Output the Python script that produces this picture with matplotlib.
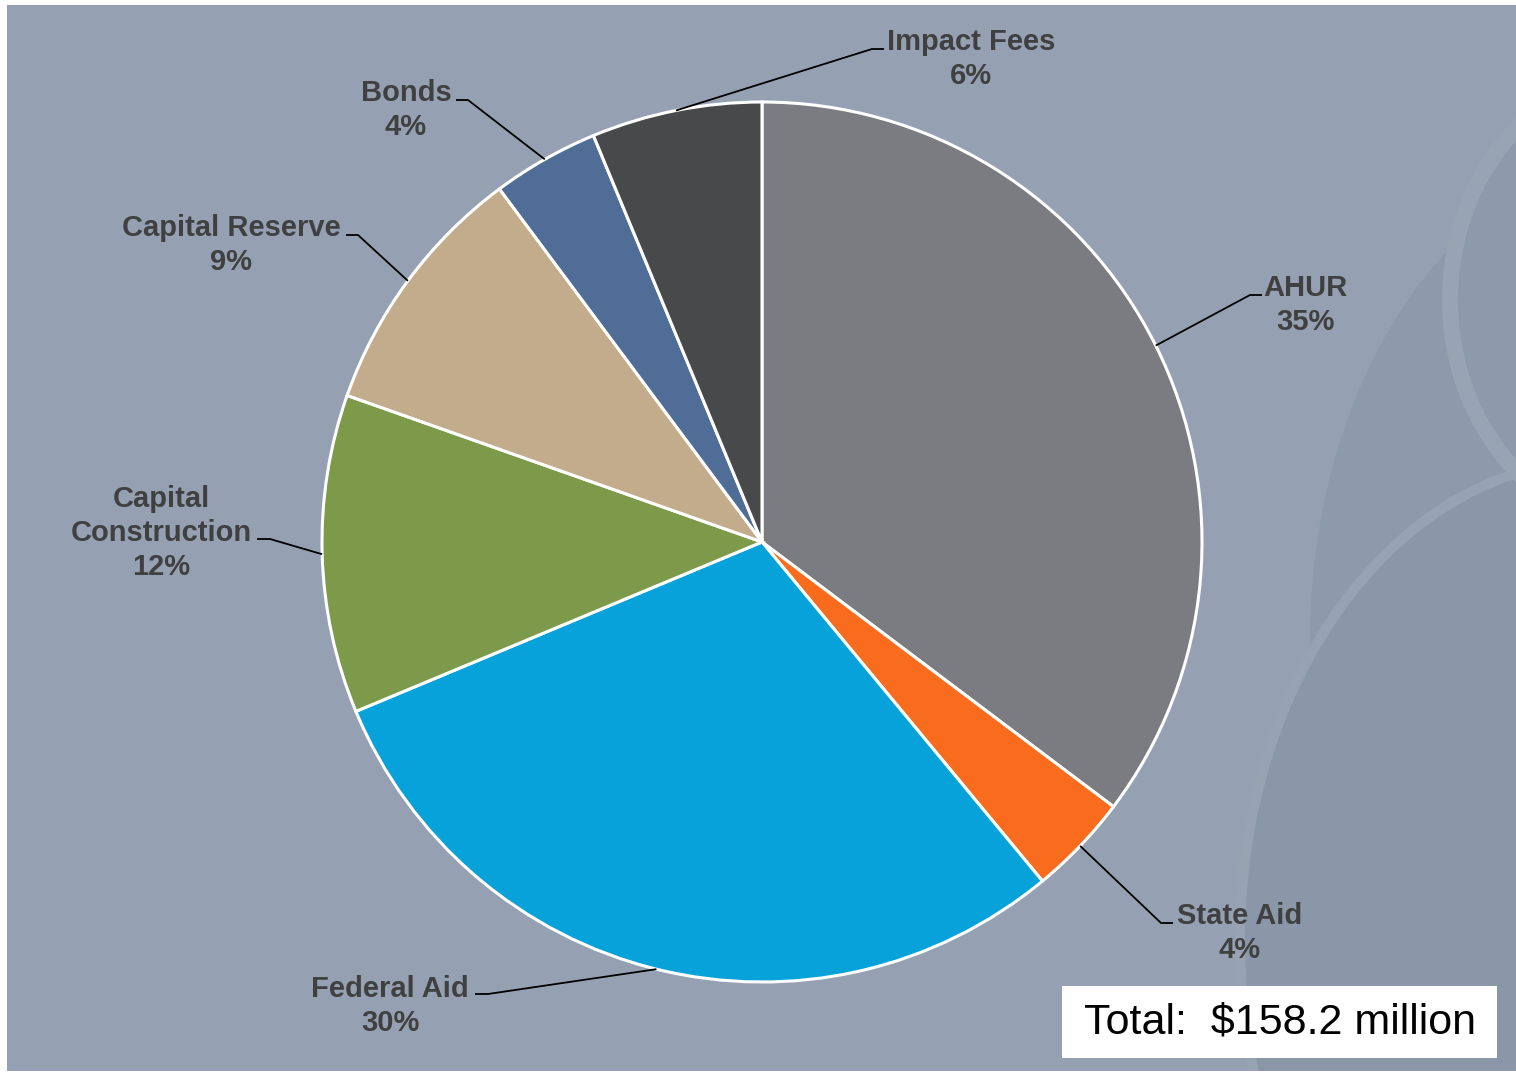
import matplotlib.pyplot as plt
from matplotlib.patches import Rectangle, Ellipse
import numpy as np

# funding sources, $ million
sources = ['AHUR', 'State Aid', 'Federal Aid', 'Capital\nConstruction',
           'Capital Reserve', 'Bonds', 'Impact Fees']
amounts = [55.8, 5.9, 47.0, 18.5, 14.9, 6.2, 9.9]
colors = ['#7B7C81', '#F96B1D', '#08A2DA', '#7D994A', '#C3AC8B', '#4F6D96', '#48494B']
total_text = 'Total:  $158.2 million'

W, H = 1516, 1073
CX, CY, R = 762, 542, 440  # pie centre / radius in pixels


def px(x, y):
    # pixel (from top-left) -> data coords
    return (x - CX) / R, (CY - y) / R


fig = plt.figure(figsize=(W / 100, H / 100), dpi=100)
fig.patch.set_facecolor('white')
ax = fig.add_axes([0, 0, 1, 1])
ax.set_xlim(-CX / R, (W - CX) / R)
ax.set_ylim(-(H - CY) / R, CY / R)
ax.axis('off')

# background panel
bx0, by0 = px(7, 1071)
bx1, by1 = px(1516, 5)
bg = Rectangle((bx0, by0), bx1 - bx0, by1 - by0, facecolor='#95A1B2', edgecolor='none', zorder=0)
ax.add_patch(bg)

# faint swirl decoration on the right
deco = [
    ((1660, 640), 700, 980, '#8C9AAB', 'none', 0),
    ((1600, 940), 720, 960, '#8997A8', '#97A3B3', 10),
    ((1650, 300), 400, 460, '#8D9AAB', '#98A4B4', 16),
]
for (ex, ey), ew, eh, fc, ec, lw in deco:
    e = Ellipse(px(ex, ey), ew / R, eh / R, facecolor=fc, edgecolor=ec,
                linewidth=lw * 0.72, zorder=0.5)
    ax.add_patch(e)
    e.set_clip_path(bg)

wedges, _ = ax.pie(amounts, colors=colors, startangle=90, counterclock=False,
                   radius=1, center=(0, 0), frame=True,
                   wedgeprops=dict(edgecolor='white', linewidth=2.2))
ax.set_xlim(-CX / R, (W - CX) / R)
ax.set_ylim(-(H - CY) / R, CY / R)
ax.set_aspect('equal')
ax.axis('off')

pcts = [round(a / sum(amounts) * 100) for a in amounts]

# label layout: text centre, elbow point, end of short horizontal tick (pixels)
layout = {
    'AHUR': ((1305, 305), (1250, 295), (1262, 295)),
    'State Aid': ((1240, 933), (1161, 923), (1173, 923)),
    'Federal Aid': ((390, 1006), (488, 994), (475, 994)),
    'Capital\nConstruction': ((161, 533), (270, 539), (257, 539)),
    'Capital Reserve': ((231, 245), (358, 235), (346, 235)),
    'Bonds': ((406, 110), (468, 100), (456, 100)),
    'Impact Fees': ((971, 59), (872, 49), (884, 49)),
}

for w, name, p in zip(wedges, sources, pcts):
    mid = np.deg2rad((w.theta1 + w.theta2) / 2)
    ax_, ay_ = np.cos(mid), np.sin(mid)
    (tx, ty), elbow, end = layout[name]
    ex, ey = px(*elbow)
    fx, fy = px(*end)
    ax.plot([ax_, ex, fx], [ay_, ey, fy], color='black', lw=1.3, zorder=3,
            solid_capstyle='butt')
    ax.text(*px(tx, ty), f'{name}\n{p}%', ha='center', va='center',
            fontsize=21, fontweight='bold', color='#404040',
            family='Liberation Sans', linespacing=1.28, zorder=4)

# total box
rx0, ry0 = px(1062, 1058)
rx1, ry1 = px(1497, 986)
ax.add_patch(Rectangle((rx0, ry0), rx1 - rx0, ry1 - ry0, facecolor='white',
                       edgecolor='none', zorder=4))
ax.text((rx0 + rx1) / 2, (ry0 + ry1) / 2, total_text, ha='center', va='center',
        fontsize=31, color='black', family='Liberation Sans', zorder=5)

fig.savefig('out.png', dpi=100, facecolor='white')
